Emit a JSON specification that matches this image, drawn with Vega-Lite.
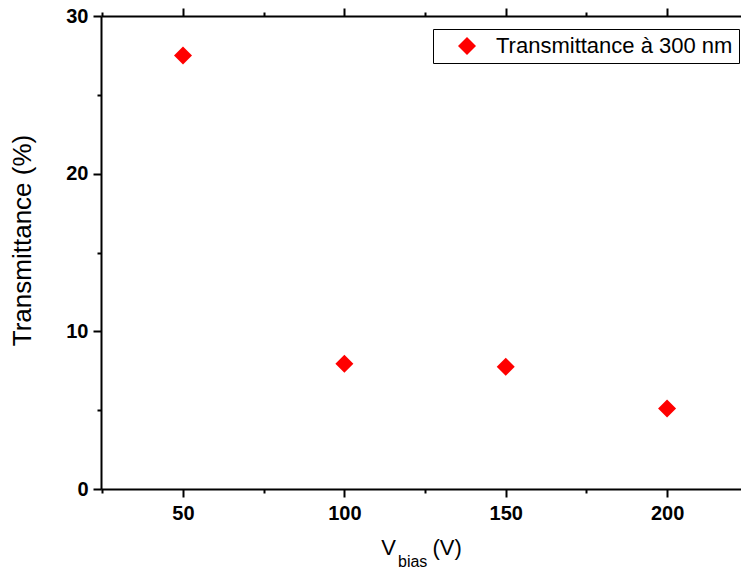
{
  "$schema": "https://vega.github.io/schema/vega-lite/v6.json",
  "width": 640,
  "height": 473,
  "autosize": {"type": "none"},
  "padding": {"left": 101, "top": 16, "right": 0, "bottom": 85},
  "background": "white",
  "config": {
    "view": {"stroke": null},
    "font": "Liberation Sans",
    "axis": {
      "domainColor": "black",
      "domainWidth": 2,
      "tickColor": "black",
      "tickWidth": 2,
      "labelColor": "black",
      "titleColor": "black",
      "grid": false,
      "labelFont": "Liberation Sans",
      "titleFont": "Liberation Sans"
    }
  },
  "title": {
    "text": "bias",
    "orient": "bottom",
    "anchor": "start",
    "frame": "group",
    "font": "Liberation Sans",
    "fontSize": 16,
    "fontWeight": "normal",
    "color": "black",
    "dx": 297,
    "offset": -4
  },
  "data": {
    "values": [
      {"vbias": 50, "t": 27.5, "series": "Transmittance à 300 nm"},
      {"vbias": 100, "t": 7.95, "series": "Transmittance à 300 nm"},
      {"vbias": 150, "t": 7.75, "series": "Transmittance à 300 nm"},
      {"vbias": 200, "t": 5.1, "series": "Transmittance à 300 nm"}
    ]
  },
  "layer": [
    {
      "mark": {"type": "point", "shape": "diamond", "filled": true, "size": 324, "opacity": 1},
      "encoding": {
        "x": {
          "field": "vbias",
          "type": "quantitative",
          "scale": {"domain": [24.6, 222.9], "nice": false, "zero": false},
          "axis": {
            "orient": "bottom",
            "values": [25, 50, 75, 100, 125, 150, 175, 200],
            "labelExpr": "datum.value % 50 === 0 ? datum.label : ''",
            "tickSize": {"condition": {"test": "datum.value % 50 === 0", "value": 8}, "value": 4},
            "labelFontSize": 20,
            "labelFontWeight": "bold",
            "labelPadding": 6,
            "labelFlush": false,
            "title": "V\u00a0\u00a0\u00a0\u00a0\u00a0\u00a0(V)",
            "titleFontSize": 22,
            "titleFontWeight": "normal",
            "titlePadding": 14
          }
        },
        "y": {
          "field": "t",
          "type": "quantitative",
          "scale": {"domain": [0, 30], "nice": false, "zero": true},
          "axis": {
            "orient": "left",
            "values": [0, 5, 10, 15, 20, 25, 30],
            "labelExpr": "datum.value % 10 === 0 ? datum.label : ''",
            "tickSize": {"condition": {"test": "datum.value % 10 === 0", "value": 8}, "value": 4},
            "labelFontSize": 20,
            "labelFontWeight": "bold",
            "labelPadding": 5,
            "labelFlush": false,
            "title": "Transmittance (%)",
            "titleFontSize": 26,
            "titleFontWeight": "normal",
            "titlePadding": 30,
            "titleY": 224
          }
        },
        "color": {
          "field": "series",
          "type": "nominal",
          "scale": {"range": ["#ff0000"]},
          "legend": {
            "title": null,
            "orient": "none",
            "legendX": 332,
            "legendY": 13,
            "strokeColor": "black",
            "padding": 6,
            "symbolType": "diamond",
            "symbolSize": 324,
            "symbolFillColor": "#ff0000",
            "symbolStrokeWidth": 0,
            "symbolOffset": 17,
            "labelOffset": 18,
            "labelFont": "Liberation Sans",
            "labelFontSize": 22,
            "labelColor": "black",
            "labelLimit": 400
          }
        }
      }
    },
    {
      "mark": {"type": "point", "opacity": 0},
      "encoding": {
        "x": {
          "field": "vbias",
          "type": "quantitative",
          "axis": {
            "orient": "top",
            "values": [25, 50, 75, 100, 125, 150, 175, 200],
            "labels": false,
            "tickSize": {"condition": {"test": "datum.value % 50 === 0", "value": 8}, "value": 4},
            "title": null
          }
        }
      }
    }
  ],
  "resolve": {"axis": {"x": "independent"}}
}
